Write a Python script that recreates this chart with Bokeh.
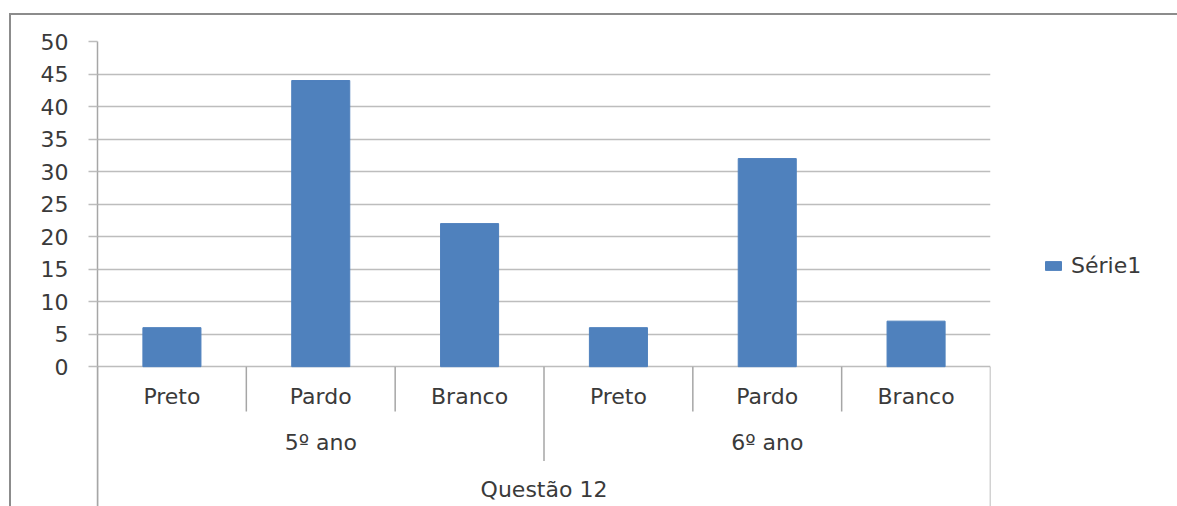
from bokeh.plotting import figure
from bokeh.models import FactorRange, Range1d, FixedTicker, ColumnDataSource, Legend, LegendItem, InlineStyleSheet
from bokeh.core.properties import value
from bokeh.embed import file_html
from bokeh.resources import INLINE

# ---- data ----
question = "Questão 12"
years = ["5º ano", "6º ano"]
races = ["Preto", "Pardo", "Branco"]
counts = [6, 44, 22, 6, 32, 7]
series_name = "Série1"
y_ticks = [0, 5, 10, 15, 20, 25, 30, 35, 40, 45, 50]

factors = [(question, yr, rc) for yr in years for rc in races]

FONT = value("DejaVu Sans")
TXT = "#3a3a3a"
FS = "22px"
BAR = "#4F81BD"

x_range = FactorRange(factors=factors, factor_padding=0, group_padding=0,
                      subgroup_padding=0, range_padding=0)
y_range = Range1d(-21.5, 50)

p = figure(frame_width=893, frame_height=465, x_range=x_range, y_range=y_range,
           output_backend="svg", toolbar_location=None, x_axis_location=None,
           min_border_left=97, min_border_right=187, min_border_top=41,
           min_border_bottom=0)
p.outline_line_color = None
p.xgrid.visible = False
p.ygrid.grid_line_color = "#bdbdbd"
p.ygrid.grid_line_width = 1.5

ya = p.yaxis[0]
ya.ticker = FixedTicker(ticks=y_ticks)
ya.axis_line_color = "#a6a6a6"
ya.axis_line_width = 1.5
ya.major_tick_line_color = "#bdbdbd"
ya.major_tick_line_width = 1.5
ya.major_tick_in = 0
ya.major_tick_out = 9
ya.minor_tick_line_color = None
ya.major_label_standoff = 20
ya.major_label_text_font = "DejaVu Sans"
ya.major_label_text_font_size = FS
ya.major_label_text_color = TXT

src = ColumnDataSource(dict(x=factors, top=counts))
bars = p.vbar(x="x", top="top", width=0.39, bottom=0, source=src,
              fill_color=BAR, line_color=BAR)

# category separators (synthetic coordinates of factor boundaries)
n = len(factors)
xs0, ys0, ys1 = [], [], []
for i in range(n + 1):
    if i == 0 or i == n:
        low = -21.5
    elif factors[i - 1][1] != factors[i][1]:
        low = -14.5
    else:
        low = -6.9
    xs0.append(i)
    ys0.append(0)
    ys1.append(low)
p.segment(x0=xs0, y0=ys0, x1=xs0, y1=ys1, line_color="#a6a6a6", line_width=1.5)

# category labels
p.text(x=factors, y=[-4.6] * n, text=[f[2] for f in factors],
       text_align="center", text_baseline="middle", text_font=FONT,
       text_font_size=FS, text_color=TXT)
p.text(x=[(question, yr) for yr in years], y=[-11.7] * len(years), text=years,
       text_align="center", text_baseline="middle", text_font=FONT,
       text_font_size=FS, text_color=TXT)
p.text(x=[question], y=[-18.9], text=[question],
       text_align="center", text_baseline="middle", text_font=FONT,
       text_font_size=FS, text_color=TXT)

legend = Legend(items=[LegendItem(label=series_name, renderers=[bars])],
                location=(53, 228), padding=0, margin=0, spacing=0,
                glyph_width=20, glyph_height=11, label_standoff=8,
                label_text_font="DejaVu Sans", label_text_font_size=FS,
                label_text_color=TXT, border_line_color=None,
                background_fill_alpha=0)
p.add_layout(legend, "right")

p.stylesheets = [InlineStyleSheet(css="""
:host { position: relative; }
:host::after {
  content: ""; position: absolute; left: 9px; top: 13px; right: -20px; bottom: -20px;
  border-top: 2.5px solid #8c8c8c; border-left: 2.5px solid #8c8c8c;
  pointer-events: none; z-index: 10;
}
""")]

open("out.html", "w").write(file_html(p, INLINE))
